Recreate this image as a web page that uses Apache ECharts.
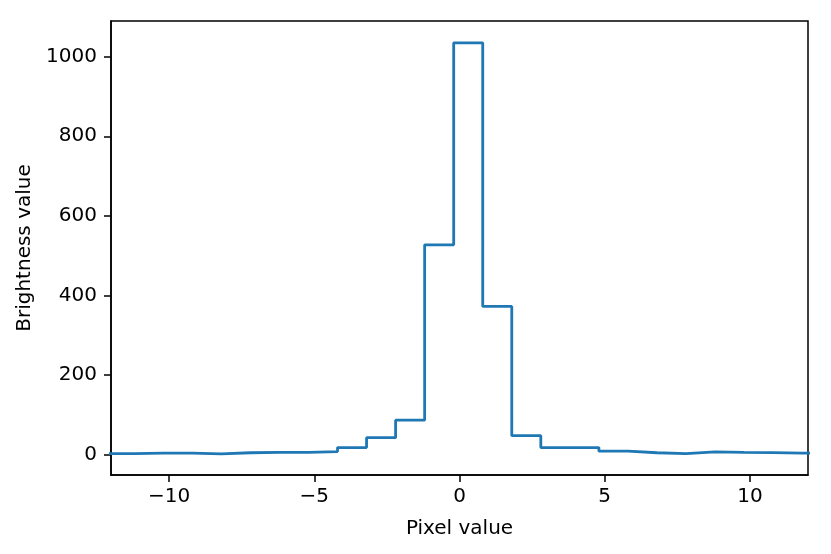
<!DOCTYPE html>
<html>
<head>
<meta charset="utf-8">
<script src="https://cdn.jsdelivr.net/npm/echarts@6/dist/echarts.min.js"></script>
<style>
  html, body { margin: 0; padding: 0; background: #fff; }
  #main { width: 831px; height: 554px; }
</style>
</head>
<body>
<div id="main"></div>
<script>
// left edge of each bin, and the level of the step over it
var binEdges = [-12.2, -11.2, -10.2, -9.2, -8.2, -7.2, -6.2, -5.2, -4.2, -3.2, -2.2, -1.2, -0.2,
  0.8, 1.8, 2.8, 3.8, 4.8, 5.8, 6.8, 7.8, 8.8, 9.8, 10.8, 11.8, 12.8];
var brightness = [2, 3, 3, 1, 4, 5, 5, 7, 17, 42, 86, 527, 1035,
  372, 47, 17, 17, 8, 4, 2, 6, 5, 4.5, 3, 3, 3];
var xTicks = [-10, -5, 0, 5, 10];
var yTicks = [0, 200, 400, 600, 800, 1000];

var chart = echarts.init(document.getElementById('main'));

var points = binEdges.map(function (x, i) {
  return [x, brightness[i]];
});

var fontFam = 'DejaVu Sans';
var fs = 20;

chart.setOption({
  backgroundColor: '#fff',
  animation: false,
  grid: {
    left: 111,
    right: 23,
    top: 21,
    bottom: 79,
    show: true,
    borderColor: '#000',
    borderWidth: 1.5
  },
  xAxis: {
    type: 'value',
    min: -12,
    max: 12,
    name: 'Pixel value',
    nameLocation: 'middle',
    nameGap: 44,
    nameTextStyle: { color: '#000', fontSize: fs, fontFamily: fontFam },
    splitLine: { show: false },
    axisLine: { show: true, onZero: false, lineStyle: { color: '#000', width: 1.5 } },
    axisTick: { show: true, inside: false, length: 7, customValues: xTicks, lineStyle: { color: '#000', width: 1.5 } },
    axisLabel: {
      customValues: xTicks,
      color: '#000',
      fontSize: fs,
      fontFamily: fontFam,
      margin: 12,
      formatter: function (v) { return v < 0 ? '\u2212' + Math.abs(v) : String(v); }
    }
  },
  yAxis: {
    type: 'value',
    min: -52,
    max: 1090,
    name: 'Brightness value',
    nameLocation: 'middle',
    nameGap: 76,
    nameTextStyle: { color: '#000', fontSize: fs, fontFamily: fontFam },
    splitLine: { show: false },
    axisLine: { show: true, onZero: false, lineStyle: { color: '#000', width: 1.5 } },
    axisTick: { show: true, inside: false, length: 7, customValues: yTicks, lineStyle: { color: '#000', width: 1.5 } },
    axisLabel: {
      customValues: yTicks,
      color: '#000',
      fontSize: fs,
      fontFamily: fontFam,
      margin: 14,
      formatter: function (v) { return String(v); }
    }
  },
  series: [{
    type: 'line',
    step: 'end',
    data: points,
    showSymbol: false,
    clip: true,
    lineStyle: { color: '#1f77b4', width: 2.8 }
  }]
});
</script>
</body>
</html>
